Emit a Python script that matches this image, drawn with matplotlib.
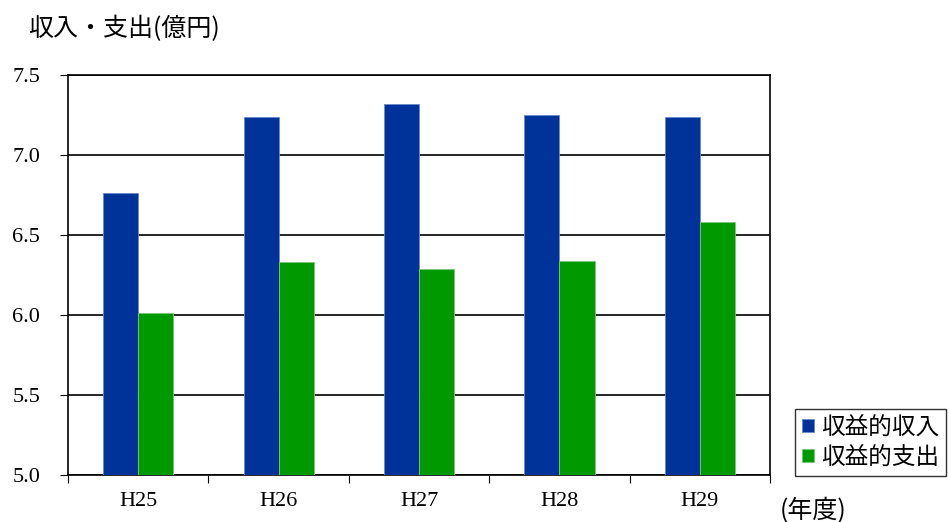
import numpy as np
import matplotlib.pyplot as plt

plt.rcParams['font.family'] = ['Liberation Serif', 'Noto Sans CJK JP', 'DejaVu Sans']

years = ['H25', 'H26', 'H27', 'H28', 'H29']
income = [6.76, 7.24, 7.32, 7.25, 7.24]
expense = [6.01, 6.33, 6.29, 6.34, 6.58]

fig = plt.figure(figsize=(9.49, 5.22), dpi=100)
ax = fig.add_axes([0.0717, 0.090, 0.7397, 0.7663])

x = np.arange(len(years))
w = 0.25
ax.bar(x - w / 2, [v - 5 for v in income], w, bottom=5, color='#003399',
       edgecolor='#6a8ad0', linewidth=0.6, label='収益的収入', zorder=3)
ax.bar(x + w / 2, [v - 5 for v in expense], w, bottom=5, color='#009900',
       edgecolor='#7ac87a', linewidth=0.6, label='収益的支出', zorder=3)

yt = np.arange(5.0, 7.51, 0.5)
ax.set_xlim(-0.5, len(years) - 0.5)
ax.set_ylim(5.0, 7.5)
ax.set_yticks(yt)
ax.set_yticklabels([f'{v:.1f}' for v in yt], fontsize=16, family='Liberation Serif')
ax.set_xticks(np.arange(-0.5, len(years), 1.0))
ax.set_xticklabels([])
ax.set_xticks(x, minor=True)
ax.set_xticklabels(years, minor=True, fontsize=16, family='Liberation Serif')
ax.tick_params(axis='x', which='minor', length=0, pad=12)
ax.tick_params(axis='x', which='major', length=6, direction='out', color='black')
ax.tick_params(axis='y', length=6, direction='out', pad=14)
ax.grid(axis='y', color='black', linewidth=1.2, zorder=0)
for s in ax.spines.values():
    s.set_linewidth(1.2)
    s.set_color('black')

fig.text(0.030, 0.945, '収入・支出(億円)', fontsize=18, family=['Noto Sans CJK JP'],
         va='center', ha='left')
fig.text(0.822, 0.022, '(年度)', fontsize=18, family=['Noto Sans CJK JP'],
         va='center', ha='left')

leg = fig.legend(loc='lower left', bbox_to_anchor=(0.838, 0.088), frameon=True,
                 fancybox=False, edgecolor='black', handlelength=0.5, handleheight=0.5,
                 handletextpad=0.3, prop={'family': 'Noto Sans CJK JP', 'size': 17},
                 borderpad=0.3, labelspacing=0.3, borderaxespad=0)
leg.get_frame().set_linewidth(1.0)

fig.savefig('out.png', dpi=100)
